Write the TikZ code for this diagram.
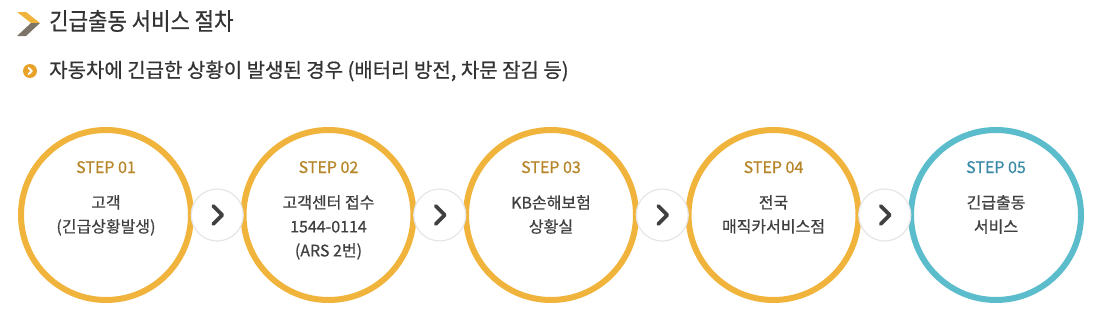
\documentclass[tikz,border=0pt]{standalone}
\usepackage{fontspec}
\setmainfont{Noto Sans CJK KR}
\newfontfamily\medfont{Noto Sans CJK KR}[FakeBold=0.6]
\usetikzlibrary{calc}
\definecolor{ringY}{HTML}{F0B43C}
\definecolor{stepY}{HTML}{B8862A}
\definecolor{ringT}{HTML}{5BBCCC}
\definecolor{stepT}{HTML}{3A8AA8}
\definecolor{bodyC}{HTML}{404040}
\definecolor{titleC}{HTML}{333333}
\definecolor{iconG}{HTML}{7D7468}
\definecolor{bulletO}{HTML}{E8A22A}
\definecolor{arrowB}{HTML}{E6E6E6}
\tikzset{
  ring/.style={circle, draw=#1, line width=6pt, minimum size=170pt, inner sep=0pt, fill=white},
  steplabel/.style={font=\medfont\fontsize{16}{18}\selectfont, text=#1, anchor=base},
  bodytext/.style={font=\medfont\fontsize{16}{24}\selectfont, text=bodyC, align=center, anchor=north, inner sep=0pt},
  arrowcirc/.style={circle, draw=arrowB, line width=1.2pt, fill=white, minimum size=52pt, inner sep=0pt},
  chev/.style={draw=bodyC, line width=3.6pt, line cap=round, line join=round}
}
\begin{document}
\begin{tikzpicture}[x=1pt,y=-1pt]
\useasboundingbox (0,0) rectangle (1114,332);
% header icon
\fill[ringY] (17,12) -- (26,12) -- (40,23) -- (31,23) -- cycle;
\fill[iconG] (31,23) -- (40,23) -- (26,36) -- (17,36) -- cycle;
\node[anchor=west, font=\medfont\fontsize{24}{26}\selectfont, text=titleC, inner sep=0pt] (title) at (49,21) {\scalebox{0.88}[1]{긴급출동 서비스 절차}};
% bullet
\node[circle, fill=bulletO, minimum size=14pt, inner sep=0pt] (bullet) at (30,71) {};
\draw[white, line width=1.8pt, line cap=round, line join=round] ($(bullet.center)+(-1.5,-3.2)$) -- ($(bullet.center)+(1.8,0)$) -- ($(bullet.center)+(-1.5,3.2)$);
\node[anchor=west, font=\medfont\fontsize{20}{22}\selectfont, text=titleC, inner sep=0pt] (sub) at (49,71) {자동차에 긴급한 상황이 발생된 경우 (배터리 방전, 차문 잠김 등)};
% rings
\node[ring=ringY] (c1) at (106,215) {};
\node[ring=ringY] (c2) at (328.5,215) {};
\node[ring=ringY] (c3) at (551,215) {};
\node[ring=ringY] (c4) at (773.5,215) {};
\node[ring=ringT] (c5) at (996,215) {};
% arrow circles
\foreach \a/\b/\n in {c1/c2/a1, c2/c3/a2, c3/c4/a3, c4/c5/a4}{
  \node[arrowcirc] (\n) at ($(\a)!0.5!(\b)$) {};
  \draw[chev] ($(\n.center)+(-4,-9)$) -- ($(\n.center)+(5,0)$) -- ($(\n.center)+(-4,9)$);
}
% step labels
\node[steplabel=stepY] (s1) at (106,173) {STEP 01};
\node[steplabel=stepY] (s2) at (328.5,173) {STEP 02};
\node[steplabel=stepY] (s3) at (551,173) {STEP 03};
\node[steplabel=stepY] (s4) at (773.5,173) {STEP 04};
\node[steplabel=stepT] (s5) at (996,173) {STEP 05};
% body text
\node[bodytext] (b1) at (106,195) {고객\\(긴급상황발생)};
\node[bodytext] (b2) at (328.5,195) {고객센터 접수\\1544-0114\\(ARS 2번)};
\node[bodytext] (b3) at (551,195) {KB손해보험\\상황실};
\node[bodytext] (b4) at (773.5,195) {전국\\매직카서비스점};
\node[bodytext] (b5) at (996,195) {긴급출동\\서비스};
\end{tikzpicture}
\end{document}
